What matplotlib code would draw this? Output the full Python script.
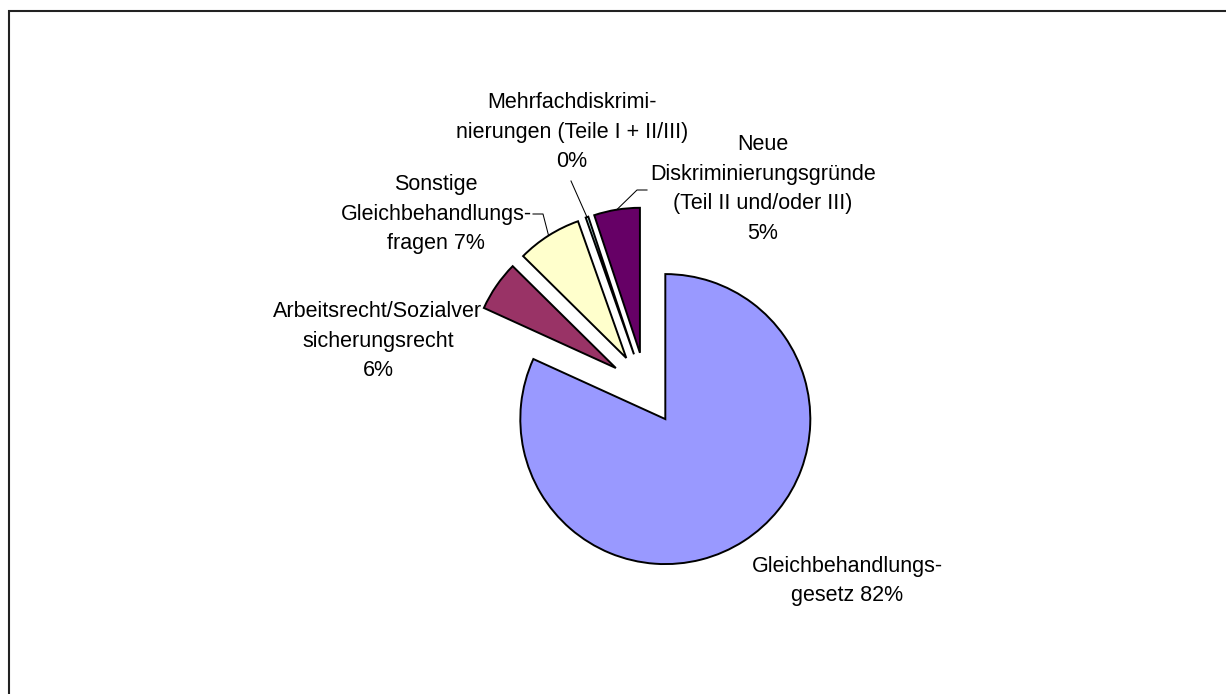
import numpy as np
import matplotlib
matplotlib.use("Agg")
import matplotlib.pyplot as plt

plt.rcParams["font.family"] = ["Liberation Sans", "DejaVu Sans"]

W, H = 1226, 694

# Beratungsanfragen nach Themenbereich (Anteile in %)
names = [
    "Gleichbehandlungs-\ngesetz",
    "Arbeitsrecht/Sozialver\nsicherungsrecht",
    "Sonstige\nGleichbehandlungs-\nfragen",
    "Mehrfachdiskrimi-\nnierungen (Teile I + II/III)",
    "Neue\nDiskriminierungsgründe\n(Teil II und/oder III)",
]
shares = [81.8, 5.6, 7.2, 0.3, 5.1]
pct_sep = [" ", "\n", " ", "\n", "\n"]
colors = ["#9999FF", "#993366", "#FFFFCC", "#CCFFFF", "#660066"]

# label anchors: centre x, first baseline y (pixels from top-left)
label_pos = [(847, 572), (378, 317), (436, 190), (572, 108), (763, 150)]
step = 29.5

radius = 145
fig = plt.figure(figsize=(W / 100, H / 100), dpi=100)
ax = fig.add_axes([0, 0, 1, 1])

# explode is an absolute offset in data units, so scale it by the radius
wedges, _ = ax.pie(
    shares,
    colors=colors,
    startangle=90,
    counterclock=False,
    explode=[0.25 * radius] * len(shares),
    center=(645.7, H - 388.6),
    radius=radius,
    wedgeprops=dict(edgecolor="black", linewidth=1.4),
)
ax.set_xlim(0, W)
ax.set_ylim(0, H)
ax.set_aspect("equal")
ax.axis("off")


def put_label(x, y, text):
    for i, line in enumerate(text.split("\n")):
        ax.text(x, H - (y + i * step), line, ha="center", va="baseline",
                fontsize=15.5, color="black")


for (x, y), name, sep, val in zip(label_pos, names, pct_sep, shares):
    put_label(x, y, f"{name}{sep}{round(val):d}%")


def outer_mid(w):
    a = np.deg2rad((w.theta1 + w.theta2) / 2)
    return w.center[0] + w.r * np.cos(a), w.center[1] + w.r * np.sin(a)


# leader lines from the label side to the wedge rim
leaders = {
    2: [(533, 214), (543, 214)],
    3: [(571, 181)],
    4: [(647, 190), (637, 190)],
}
for idx, pts in leaders.items():
    xs = [p[0] for p in pts]
    ys = [H - p[1] for p in pts]
    mx, my = outer_mid(wedges[idx])
    ax.plot(xs + [mx], ys + [my], color="black", lw=0.75)

# chart area frame (top and left edge)
ax.plot([8.5, 8.5, W], [0, H - 10.5, H - 10.5], color="#222222", lw=1.5,
        solid_joinstyle="miter", clip_on=False)

fig.savefig("out.png", dpi=100)
